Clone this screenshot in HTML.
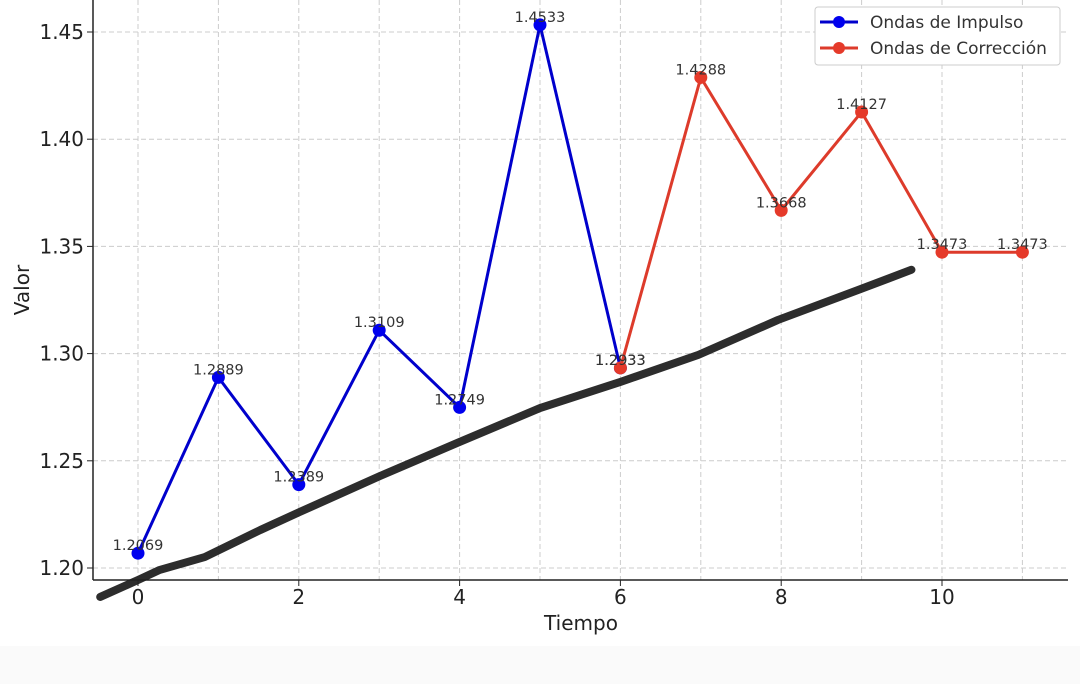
<!DOCTYPE html>
<html><head><meta charset="utf-8"><style>
body{margin:0;background:#fff;width:1080px;height:684px;overflow:hidden;font-family:"Liberation Sans","DejaVu Sans",sans-serif}
</style></head><body>
<svg id="chart" width="1080" height="684" xmlns="http://www.w3.org/2000/svg" font-family="DejaVu Sans, Liberation Sans, sans-serif">
<rect x="0" y="646" width="1080" height="38" fill="#fafafa"/>
<g id="grid"></g>
<g id="axes"></g>
<g id="marks"></g>
<text x="581" y="630" font-size="20" text-anchor="middle" fill="#222">Tiempo</text>
<text transform="translate(29,290) rotate(-90)" font-size="20" text-anchor="middle" fill="#222">Valor</text>
<g>
<rect x="815" y="7" width="245" height="58" rx="3" fill="#fff" stroke="#ccc"/>
<g><line x1="820" y1="22" x2="858" y2="22" stroke="#0000cc" stroke-width="3"/><circle cx="839" cy="22" r="6" fill="#0000ee"/><text x="870" y="28" font-size="17" fill="#333">Ondas de Impulso</text></g>
<g><line x1="820" y1="48" x2="858" y2="48" stroke="#dd3b2b" stroke-width="3"/><circle cx="839" cy="48" r="6" fill="#e53a2a"/><text x="870" y="54" font-size="17" fill="#333">Ondas de Corrección</text></g>
</g>
</svg>
<script>
const impulseX=[0,1,2,3,4,5,6];
const impulseY=[1.2069,1.2889,1.2389,1.3109,1.2749,1.4533,1.2933];
const corrX=[6,7,8,9,10,11];
const corrY=[1.2933,1.4288,1.3668,1.4127,1.3473,1.3473];
const trendX=[-0.47,0,0.27,0.83,1.52,2.01,3.01,4.0,5.0,6.0,6.97,7.96,8.96,9.62];
const trendY=[1.1865,1.1944,1.1991,1.2051,1.2177,1.2261,1.2429,1.2588,1.2746,1.2868,1.2994,1.3157,1.3297,1.3391];
const xTicks=[0,2,4,6,8,10];
const yTicks=[1.20,1.25,1.30,1.35,1.40,1.45];
const xs=v=>138+v*80.4, ys=v=>568-(v-1.2)*2144;
const NS="http://www.w3.org/2000/svg";
function mk(p,t,a){const e=document.createElementNS(NS,t);for(const k in a)e.setAttribute(k,a[k]);p.appendChild(e);return e;}
const grid=document.getElementById('grid'),axes=document.getElementById('axes'),marks=document.getElementById('marks');
for(let i=0;i<12;i++){const l=mk(grid,'line',{x1:xs(i),x2:xs(i),y1:0,y2:580,stroke:'#ccc','stroke-dasharray':'5,3'});

}
yTicks.forEach(v=>{const l=mk(grid,'line',{x1:93,x2:1068,y1:ys(v),y2:ys(v),stroke:'#ccc','stroke-dasharray':'5,3'});


const t=mk(axes,'text',{x:84,y:ys(v)+7,'font-size':20,'text-anchor':'end',fill:'#222'});t.textContent=v.toFixed(2);


mk(axes,'line',{x1:87,x2:93,y1:ys(v),y2:ys(v),stroke:'#222'});});
xTicks.forEach(v=>{mk(axes,'line',{x1:xs(v),x2:xs(v),y1:580,y2:586,stroke:'#222'});
const t=mk(axes,'text',{x:xs(v),y:604,'font-size':20,'text-anchor':'middle',fill:'#222'});t.textContent=v;

});
mk(axes,'line',{x1:93,x2:93,y1:0,y2:580,stroke:'#222','stroke-width':1.5});
mk(axes,'line',{x1:93,x2:1068,y1:580,y2:580,stroke:'#222','stroke-width':1.5});
function series(X,Y,col,fill,name){
const pl=mk(marks,'polyline',{points:X.map((x,i)=>xs(x)+','+ys(Y[i])).join(' '),fill:'none',stroke:col,'stroke-width':3});


X.forEach((x,i)=>{const c=mk(marks,'circle',{cx:xs(x),cy:ys(Y[i]),r:6.5,fill:fill});


const t=mk(marks,'text',{x:xs(x),y:ys(Y[i])-3,'font-size':14.5,'text-anchor':'middle',fill:'#333'});t.textContent=Y[i].toFixed(4);

});}
const tr=mk(marks,'polyline',{points:trendX.map((x,i)=>xs(x)+','+ys(trendY[i])).join(' '),fill:'none',stroke:'#222','stroke-width':8,'stroke-linecap':'round','stroke-linejoin':'round','stroke-opacity':0.95});


series(impulseX,impulseY,'#0000cc','#0000ee','impulse');
series(corrX,corrY,'#dd3b2b','#e53a2a','correction');
</script>
</body></html>
